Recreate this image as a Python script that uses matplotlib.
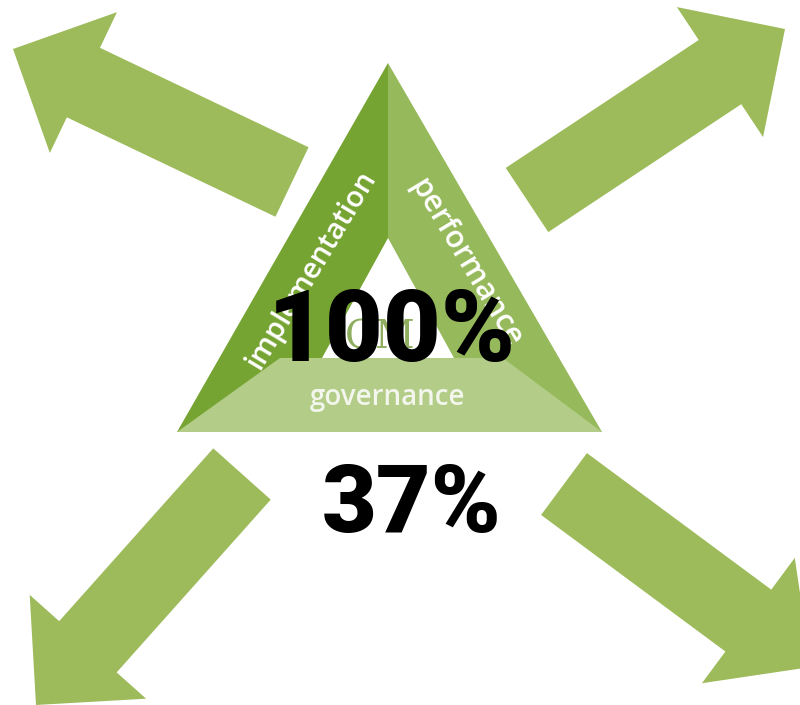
import numpy as np
import matplotlib
matplotlib.use("Agg")
import matplotlib.pyplot as plt
from matplotlib.patches import Polygon

# valores mostrados
big_values = ["100%", "37%"]
band_labels = ["implementation", "performance", "governance"]
logo_text = "GM"

# flechas: (cola, punta) en pixeles de la imagen
arrow_tails = [(292, 182), (527, 200), (242, 474), (564, 484)]
arrow_tips = [(13, 49), (785, 29), (36, 705), (811, 667)]

W, H = 800, 705
ARROW_COLOR = "#9dbb5a"
LEFT_COLOR = "#76a433"
RIGHT_COLOR = "#96b95b"
BOTTOM_COLOR = "#b3cc87"


def arrow_polygon(tail, tip, shaft_w=77, head_w=156, head_len=78):
    """Devuelve los vertices de una flecha gruesa de tail a tip."""
    tail = np.array(tail, float)
    tip = np.array(tip, float)
    d = tip - tail
    d = d / np.hypot(*d)
    n = np.array([-d[1], d[0]])
    base = tip - d * head_len
    pts = [
        tail + n * shaft_w / 2,
        base + n * shaft_w / 2,
        base + n * head_w / 2,
        tip,
        base - n * head_w / 2,
        base - n * shaft_w / 2,
        tail - n * shaft_w / 2,
    ]
    return np.array(pts)


fig = plt.figure(figsize=(W / 100, H / 100), dpi=100)
ax = fig.add_axes([0, 0, 1, 1])
ax.set_xlim(0, W)
ax.set_ylim(H, 0)
ax.axis("off")

for tail, tip in zip(arrow_tails, arrow_tips):
    ax.add_patch(Polygon(arrow_polygon(tail, tip), closed=True,
                         facecolor=ARROW_COLOR, edgecolor="none", zorder=1))

# triangulo
apex = (388, 63)
base_y = 432
bl, br = (177, base_y), (602, base_y)
inner_apex = (388, 238)
gov_top = 358

ax.add_patch(Polygon([apex, bl, (388, base_y)], facecolor=LEFT_COLOR,
                     edgecolor="none", zorder=2))
ax.add_patch(Polygon([apex, (388, base_y), br], facecolor=RIGHT_COLOR,
                     edgecolor="none", zorder=2))
ax.add_patch(Polygon([bl, br, (503, gov_top), (280, gov_top)],
                     facecolor=BOTTOM_COLOR, edgecolor="none", zorder=3))
ax.add_patch(Polygon([inner_apex, (322, gov_top), (454, gov_top)],
                     facecolor="white", edgecolor="none", zorder=3))

ax.text(380, 338, logo_text, fontsize=28, family="DejaVu Serif",
        color="#8fae5f", ha="center", va="center", zorder=4)

ax.text(312, 270, band_labels[0], fontsize=21, family="Open Sans",
        weight="semibold", color="white", rotation=59,
        rotation_mode="anchor", ha="center", va="center", zorder=5)
ax.text(466, 263, band_labels[1], fontsize=22, family="Open Sans",
        weight="semibold", color="white", rotation=-59,
        rotation_mode="anchor", ha="center", va="center", zorder=5)
ax.text(388, 397, band_labels[2], fontsize=20, family="Open Sans",
        weight="semibold", color="#f2f6ec", ha="center", va="center",
        zorder=5)

ax.text(392, 334, big_values[0], fontsize=72, family="Roboto",
        weight="heavy", color="black", ha="center", va="center", zorder=6)
ax.text(412, 506, big_values[1], fontsize=68, family="Roboto",
        weight="heavy", color="black", ha="center", va="center", zorder=6)

fig.savefig("out.png", dpi=100)
